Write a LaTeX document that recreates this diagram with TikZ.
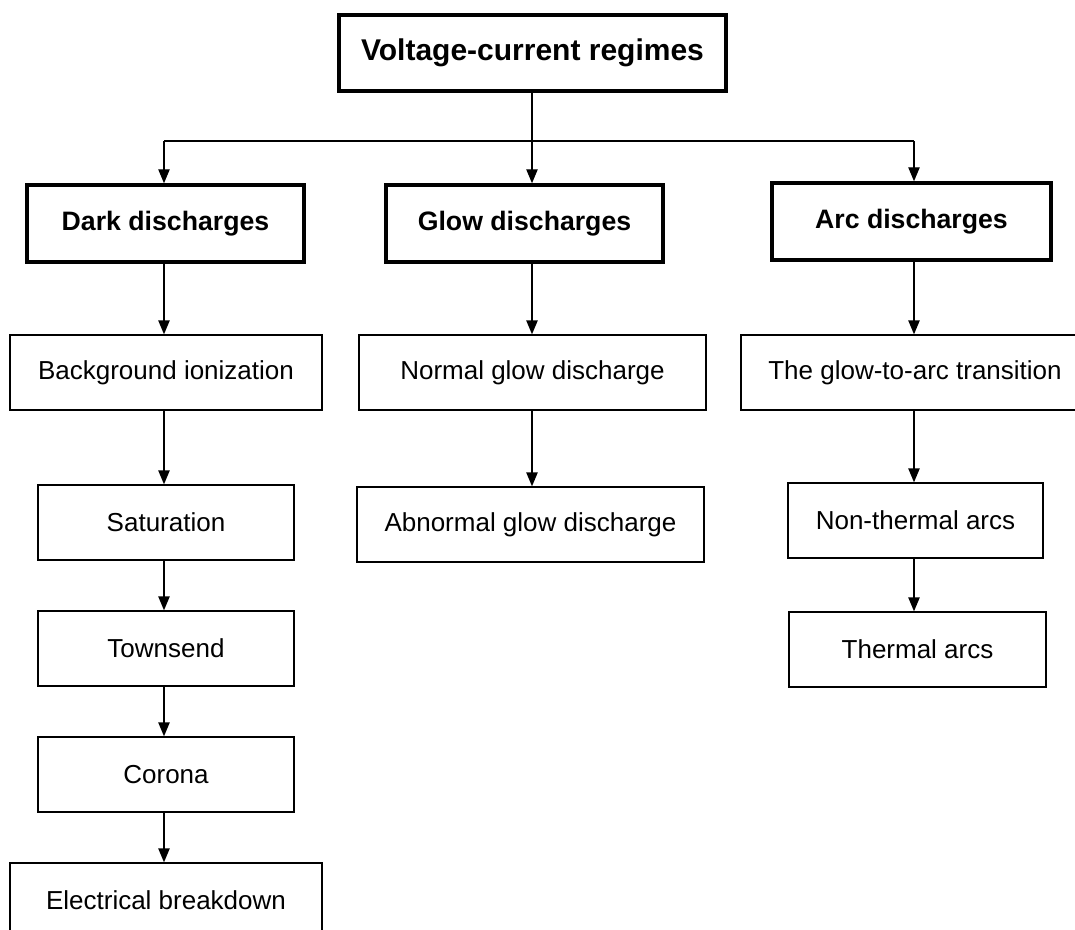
\documentclass[tikz,border=0pt]{standalone}
\usepackage{fontspec}
\setmainfont{Liberation Sans}
\usetikzlibrary{arrows.meta}
\begin{document}
\begin{tikzpicture}[x=0.75pt,y=-0.75pt,
  thinbox/.style={draw=black,line width=1pt,rectangle,inner sep=0pt,minimum height=56.25pt,font=\fontsize{19.5pt}{23pt}\selectfont},
  thickbox/.style={draw=black,line width=2.6pt,rectangle,inner sep=0pt,minimum height=57.75pt,font=\bfseries\fontsize{20pt}{24pt}\selectfont},
  arr/.style={line width=1.1pt,-{Triangle[length=10.5pt,width=8.5pt]}},
  conn/.style={line width=1.1pt}]
\useasboundingbox (0,0) rectangle (1075,930);
\clip (0,0) rectangle (1075,930);
% top
\node[thickbox,minimum width=290.25pt,minimum height=57pt,font=\bfseries\fontsize{22.5pt}{27pt}\selectfont] (top) at (532.5,53) {Voltage-current regimes};
% level 1
\node[thickbox,minimum width=207.75pt] (dark) at (165.5,223.5) {Dark discharges};
\node[thickbox,minimum width=207.75pt] (glow) at (524.5,223.5) {Glow discharges};
\node[thickbox,minimum width=209.25pt] (arc) at (911.5,221.5) {Arc discharges};
% dark column
\node[thinbox,minimum width=234pt] (bg) at (166,372.5) {Background ionization};
\node[thinbox,minimum width=192pt] (sat) at (166,522.5) {Saturation};
\node[thinbox,minimum width=192pt] (town) at (166,648.5) {Townsend};
\node[thinbox,minimum width=192pt] (cor) at (166,774.5) {Corona};
\node[thinbox,minimum width=234pt] (elec) at (166,900.5) {Electrical breakdown};
% glow column
\node[thinbox,minimum width=260.25pt] (norm) at (532.5,372.5) {Normal glow discharge};
\node[thinbox,minimum width=260.25pt] (abn) at (530.5,524.5) {Abnormal glow discharge};
% arc column
\node[thinbox,minimum width=261pt] (gta) at (915,372.5) {The glow-to-arc transition};
\node[thinbox,minimum width=191.25pt] (nta) at (915.5,520.5) {Non-thermal arcs};
\node[thinbox,minimum width=192.75pt] (tha) at (917.5,649.5) {Thermal arcs};
% connectors
\coordinate (hub) at (532,141);
\coordinate (hl) at (164,141);
\coordinate (hr) at (914,141);
\draw[conn] (top.south -| hub) -- (hub);
\draw[conn] (hl) -- (hr);
\draw[arr] (hl) -- (hl |- dark.north);
\draw[arr] (hub) -- (hub |- glow.north);
\draw[arr] (hr) -- (hr |- arc.north);
\draw[arr] (dark.south -| hl) -- (bg.north -| hl);
\draw[arr] (bg.south -| hl) -- (sat.north -| hl);
\draw[arr] (sat.south -| hl) -- (town.north -| hl);
\draw[arr] (town.south -| hl) -- (cor.north -| hl);
\draw[arr] (cor.south -| hl) -- (elec.north -| hl);
\draw[arr] (glow.south -| hub) -- (norm.north -| hub);
\draw[arr] (norm.south -| hub) -- (abn.north -| hub);
\draw[arr] (arc.south -| hr) -- (gta.north -| hr);
\draw[arr] (gta.south -| hr) -- (nta.north -| hr);
\draw[arr] (nta.south -| hr) -- (tha.north -| hr);
\end{tikzpicture}
\end{document}
